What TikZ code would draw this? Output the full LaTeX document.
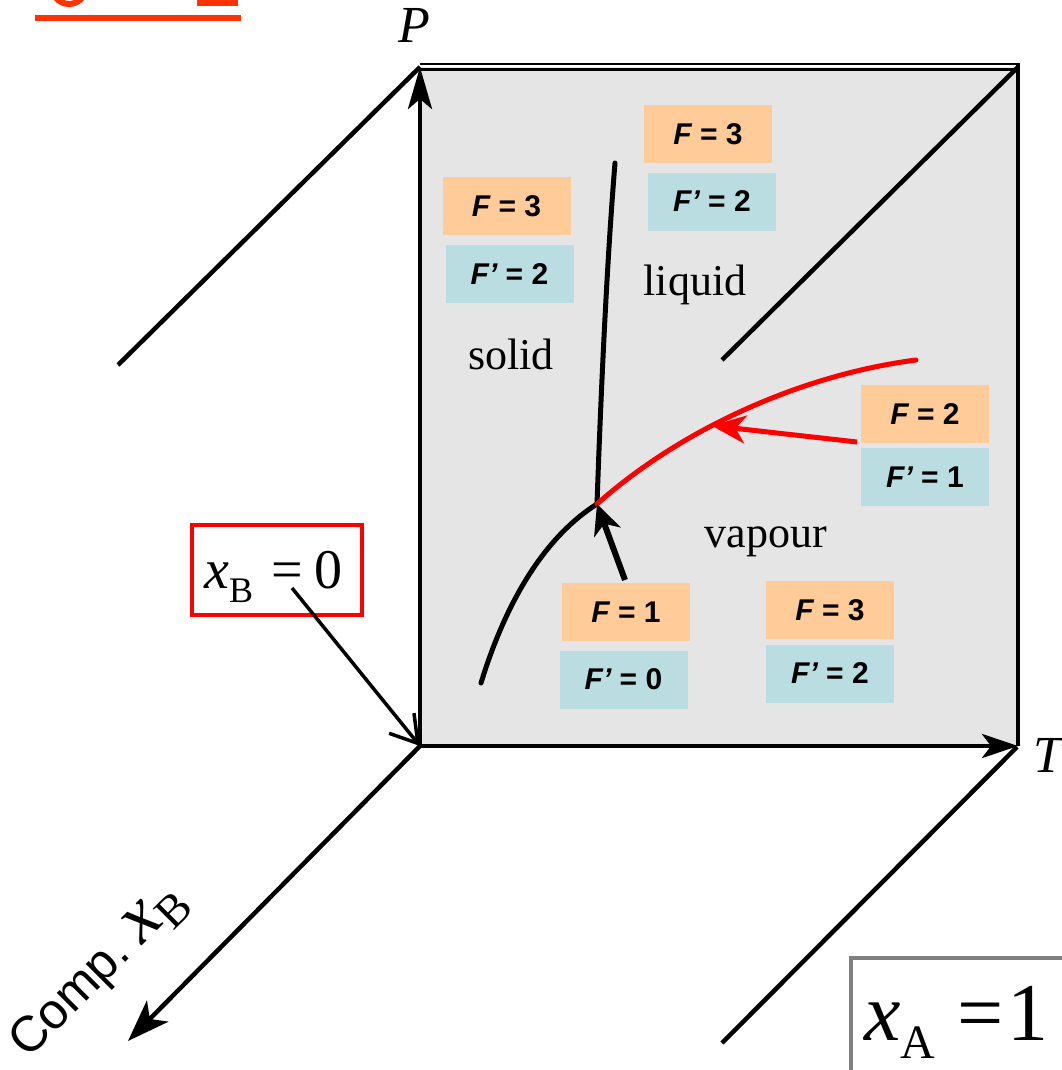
\documentclass[tikz,border=0pt]{standalone}
\usepackage{fontspec}
\setmainfont{Liberation Serif}
\newfontfamily\arialf{Liberation Sans}
\usetikzlibrary{arrows.meta}
\definecolor{orangebox}{HTML}{FFCC99}
\definecolor{bluebox}{HTML}{B9DDE1}
\definecolor{panelgrey}{HTML}{E5E5E5}
\definecolor{titlered}{HTML}{FF3300}
\newcommand\FvalA[1]{{\itshape F} = #1}
\newcommand\FvalB[1]{{\itshape F’} = #1}
\tikzset{
  fbox/.style={minimum width=128pt, minimum height=58pt, inner sep=0pt,
    font=\arialf\bfseries\fontsize{30}{30}\selectfont},
  obox/.style={fbox, fill=orangebox},
  bbox/.style={fbox, fill=bluebox},
  frame/.style={line width=4.5pt, black},
  axisarrow/.style={line width=4.5pt, -{Stealth[length=42pt,width=24pt,inset=10pt]}},
  phase/.style={line width=5pt, line cap=round},
  phaselabel/.style={inner sep=0pt, anchor=base, font=\fontsize{44}{44}\selectfont},
  pointer/.style={line width=6pt, -{Stealth[length=30pt,width=28pt,inset=9pt]}},
}
\begin{document}
\begin{tikzpicture}[x=1pt,y=-1pt]
\useasboundingbox (0,0) rectangle (1061,1070);
% fragment of cut-off heading
\begin{scope}
\clip (0,0) rectangle (1061,8);
\draw[titlered, line width=6pt] (69,-18) ellipse (19 and 22);
\fill[titlered] (197,-10) rectangle (238,6);
\end{scope}
\fill[titlered] (35,15) rectangle (241,21);

% coordinates
\coordinate (O) at (420,746);
\coordinate (Ptop) at (420,67);
\coordinate (TR) at (1018,67);
\coordinate (Tend) at (1018,746);
\coordinate (J) at (597,504);

% panel
\fill[panelgrey] (Ptop) rectangle (Tend);
\draw[line width=2pt] (420,64) -- (1020,64);
\draw[line width=2.5pt] (420,69.5) -- (1020,69.5);
\draw[frame] (1018,63) -- (Tend);

% perspective lines
\coordinate (d1) at (118,365);
\coordinate (d2) at (722,360);
\coordinate (d3) at (722,1043);
\coordinate (d4) at (128,1041);
\draw[frame] (Ptop) -- (d1);
\draw[frame] (TR) -- (d2);
\draw[frame] (1017,747) -- (d3);
\draw[axisarrow, -{Stealth[length=42pt,width=30pt,inset=11pt]}] (O) -- (d4);

% axes
\draw[axisarrow] (O) -- (Ptop);
\draw[axisarrow, -{Stealth[length=36pt,width=24pt,inset=9pt]}] (O) -- (Tend);
\node[anchor=base west, inner sep=0pt, font=\fontsize{52}{52}\selectfont\itshape] (Plab) at (398,43) {P};
\node[anchor=base west, inner sep=0pt, font=\fontsize{52}{52}\selectfont\itshape] (Tlab) at (1033,772) {T};

% phase boundaries
\draw[phase, black] (481,683) .. controls (508,595) and (548,535) .. (J);
\draw[phase, black] (J) .. controls (601,390) and (607,260) .. (615,163);
\draw[phase, red] (J) .. controls (680,430) and (800,375) .. coordinate[pos=0.4] (rp) (916,360);

% phase labels
\node[phaselabel] (solid) at (511,369) {solid};
\node[phaselabel] (liquid) at (695,295) {liquid};
\node[phaselabel] (vapour) at (766,547) {vapour};

% F boxes
\node[obox] (o1) at (506.5,206) {\FvalA{3}};
\node[bbox] (b1) at (509.5,274) {\FvalB{2}};
\node[obox] (o2) at (708,134) {\FvalA{3}};
\node[bbox] (b2) at (712,201.5) {\FvalB{2}};
\node[obox] (o3) at (925,414) {\FvalA{2}};
\node[bbox] (b3) at (925,477) {\FvalB{1}};
\node[obox] (o4) at (626,612) {\FvalA{1}};
\node[bbox] (b4) at (623.5,679.5) {\FvalB{0}};
\node[obox] (o5) at (830,610) {\FvalA{3}};
\node[bbox] (b5) at (830,673.5) {\FvalB{2}};

% pointers
\coordinate (o4top) at (625,580);
\draw[pointer, black] (o4top) -- (J);
\coordinate (o3left) at (857,442);
\draw[pointer, red, line width=5pt, -{Stealth[length=34pt,width=28pt,inset=10pt]}] (o3left) -- (rp);

% x_B = 0 box
\node[draw=red, line width=4pt, minimum width=170pt, minimum height=90pt, inner sep=0pt] (xbbox) at (277,570) {};
\node[anchor=base west, inner sep=0pt] (xbtext) at (204,588)
  {\fontsize{56}{56}\selectfont\itshape x\raisebox{-14pt}{\upshape\fontsize{36}{36}\selectfont B}\upshape\hspace{18pt}=\hspace{12pt}0};
\coordinate (xbarr) at (292,588);
\draw[line width=3.5pt, -{Straight Barb[length=26pt,width=32pt]}] (xbarr) -- (O);

% x_A = 1 box
\draw[line width=4pt, black!50] (1080,958) -- (851,958) -- (851,1090);
\node[anchor=base west, inner sep=0pt] (xatext) at (864,1040)
  {\fontsize{82}{82}\selectfont\itshape x\raisebox{-18pt}{\upshape\fontsize{48}{48}\selectfont A}\upshape\hspace{22pt}=\hspace{4pt}1};

% Comp. x_B
\node[rotate=45, anchor=base west, inner sep=0pt] (comp) at (28,1060)
  {{\arialf\fontsize{50}{50}\selectfont Comp.}\hspace{14pt}{\fontsize{74}{74}\selectfont\itshape x}\raisebox{-12pt}{\fontsize{46}{46}\selectfont B}};
\end{tikzpicture}
\end{document}
